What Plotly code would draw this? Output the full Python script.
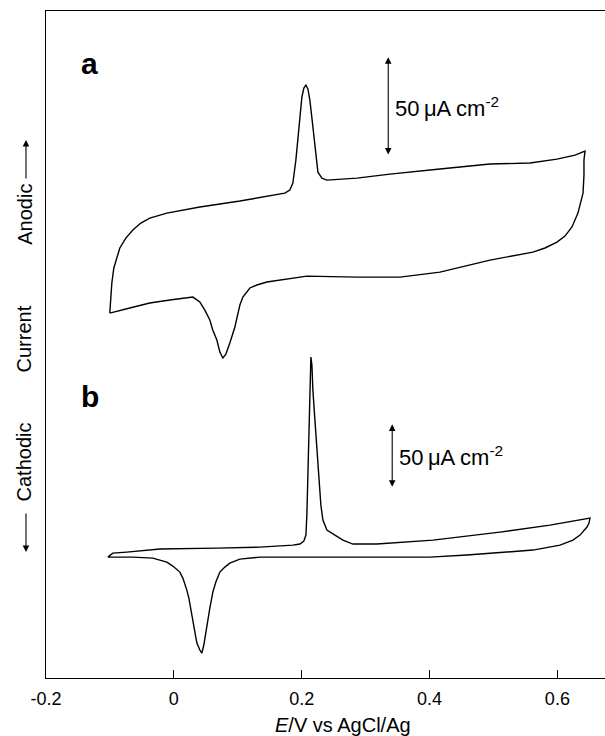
import plotly.graph_objects as go

# ---------------- data ----------------
# Curve a: potential (V vs AgCl/Ag) and current density (uA cm^-2, relative)
E_a = [-0.1002, -0.0986, -0.0970, -0.0939, -0.0892, -0.0845, -0.0751, -0.0642, -0.0516, -0.0376,
       -0.0110, 0.0407, 0.1033, 0.1502, 0.1737, 0.1815, 0.1862, 0.1909, 0.1941, 0.1972,
       0.2003, 0.2034, 0.2066, 0.2097, 0.2128, 0.2160, 0.2207, 0.2254, 0.2316, 0.2394,
       0.2864, 0.3380, 0.4163, 0.4945, 0.5571, 0.5994, 0.6275, 0.6432,
       0.6416, 0.6416, 0.6401, 0.6322, 0.6228, 0.6119, 0.5994, 0.5806, 0.5618, 0.4945,
       0.4163, 0.3537, 0.2864, 0.2081, 0.1455, 0.1299, 0.1189, 0.1080, 0.1033, 0.0986,
       0.0955, 0.0876, 0.0814, 0.0767, 0.0720, 0.0673, 0.0610, 0.0563, 0.0485, 0.0407,
       0.0297, -0.0063, -0.0376, -0.0689, -0.1002]
I_a = [-36.9, -30.3, -21.7, -14.1, -8.6, -4.0, 1.0, 5.1, 8.6, 11.1,
       13.6, 16.7, 19.7, 22.2, 23.7, 25.3, 28.8, 40.4, 50.5, 63.1,
       72.2, 76.8, 78.3, 76.3, 70.7, 61.6, 49.0, 34.3, 31.3, 30.3,
       31.3, 33.3, 35.9, 38.4, 38.9, 40.9, 42.9, 44.9,
       40.4, 32.8, 23.7, 13.6, 6.6, 2.0, -1.0, -4.0, -6.1, -10.1,
       -16.2, -18.7, -18.7, -18.2, -21.2, -22.7, -24.2, -28.8, -32.8, -39.4,
       -43.9, -52.0, -57.6, -59.6, -56.6, -50.5, -45.5, -40.4, -35.4, -31.3,
       -28.8, -30.3, -31.8, -34.3, -36.9]

# Curve b
E_b = [-0.1033, -0.0955, -0.0736, -0.0219, 0.0673, 0.1346, 0.1862, 0.1972, 0.2034, 0.2066,
       0.2081, 0.2097, 0.2113, 0.2128, 0.2144, 0.2160, 0.2175, 0.2207, 0.2238, 0.2269,
       0.2300, 0.2332, 0.2394, 0.2520, 0.2645, 0.2801, 0.3177, 0.4053, 0.5102, 0.5884,
       0.6510, 0.6495, 0.6463, 0.6354, 0.6244, 0.6041, 0.5618, 0.4585, 0.4006, 0.1972,
       0.1346, 0.1033, 0.0876, 0.0798, 0.0720, 0.0657, 0.0610, 0.0563, 0.0516, 0.0469,
       0.0438, 0.0407, 0.0360, 0.0313, 0.0282, 0.0235, 0.0203, 0.0141, 0.0094, -0.0016,
       -0.0110, -0.0329, -0.0642, -0.1033]
I_b = [-4.7, -1.6, -0.8, 1.6, 2.3, 3.1, 4.7, 5.5, 7.8, 12.5,
       28.1, 55.5, 86.7, 118.0, 151.6, 145.3, 125.8, 102.3, 78.9, 55.5,
       35.9, 24.2, 16.4, 12.5, 8.6, 5.5, 5.5, 8.6, 14.8, 20.3,
       25.8, 21.9, 18.8, 12.5, 8.6, 4.7, 0.8, -3.1, -4.7, -4.7,
       -4.7, -6.3, -9.4, -12.5, -16.4, -24.2, -32.0, -44.5, -59.4, -73.4,
       -79.7, -77.3, -71.9, -57.8, -48.4, -36.7, -30.5, -21.1, -16.4, -11.7,
       -8.6, -5.5, -4.7, -4.7]

x_tickvals = [-0.2, 0, 0.2, 0.4, 0.6]
x_ticktext = ["-0.2", "0", "0.2", "0.4", "0.6"]
scale_bar = 50  # uA cm^-2

# ---------------- arrangement (vertical stacking of the two panels) ----------------
OFFSET_A = 221.2
OFFSET_B = 64.1
SCALE_B = 0.6465          # panel b drawn at a smaller current scale
Y_MAX = 336.9
X_RANGE = [-0.2, 0.6745]

FONT = "Liberation Sans, Arial, Helvetica, sans-serif"

ya = [OFFSET_A + v for v in I_a]
yb = [OFFSET_B + SCALE_B * v for v in I_b]

fig = go.Figure()
fig.add_trace(go.Scatter(x=E_a, y=ya, mode="lines",
                         line=dict(color="black", width=1.4), hoverinfo="skip"))
fig.add_trace(go.Scatter(x=E_b, y=yb, mode="lines",
                         line=dict(color="black", width=1.4), hoverinfo="skip"))

ann = []
# scale bars
bar_a_x, bar_a_lo = 0.3354, 263.6
bar_b_x, bar_b_lo = 0.3416, 95.8
for bx, blo, k in [(bar_a_x, bar_a_lo, 1.0), (bar_b_x, bar_b_lo, SCALE_B)]:
    ann.append(dict(x=bx, y=blo + scale_bar * k, ax=bx, ay=blo, xref="x", yref="y",
                    axref="x", ayref="y", showarrow=True, arrowhead=2, arrowside="end+start",
                    arrowsize=1.2, arrowwidth=1.1, arrowcolor="black", text=""))
    ann.append(dict(x=bx, y=blo + scale_bar * k / 2, xref="x", yref="y", xanchor="left",
                    yanchor="middle", xshift=5, showarrow=False,
                    text="50\u2009\u03bcA cm<sup>-2</sup>",
                    font=dict(family=FONT, size=22, color="black")))

# panel letters
ann.append(dict(x=0.0787, y=0.9215, xref="paper", yref="paper", showarrow=False,
                xanchor="center", yanchor="middle",
                text="<b>a</b>", font=dict(family=FONT, size=30, color="black")))
ann.append(dict(x=0.0787, y=0.4225, xref="paper", yref="paper", showarrow=False,
                xanchor="center", yanchor="middle",
                text="<b>b</b>", font=dict(family=FONT, size=30, color="black")))

# left rotated labels
for txt, py in [("Anodic", 0.696), ("Current", 0.509), ("Cathodic", 0.3246)]:
    ann.append(dict(x=-0.0376, y=py, xref="paper", yref="paper", showarrow=False,
                    xanchor="center", yanchor="middle",
                    textangle=-90, text=txt, font=dict(family=FONT, size=20, color="black")))
ann.append(dict(x=-0.0358, y=0.8066, xref="paper", yref="paper", showarrow=True,
                ax=0, ay=40, arrowhead=2, arrowsize=1.2, arrowwidth=1.1, arrowcolor="black", text=""))
ann.append(dict(x=-0.0358, y=0.1889, xref="paper", yref="paper", showarrow=True,
                ax=0, ay=-40, arrowhead=2, arrowsize=1.2, arrowwidth=1.1, arrowcolor="black", text=""))

# x-axis title
ann.append(dict(x=0.531, y=-0.0705, xref="paper", yref="paper", showarrow=False,
                xanchor="center", yanchor="middle", text="<i>E</i>/V vs AgCl/Ag",
                font=dict(family=FONT, size=20, color="black")))

fig.update_layout(
    width=605, height=736,
    margin=dict(l=46, r=0, t=11, b=58),
    paper_bgcolor="white", plot_bgcolor="white",
    showlegend=False,
    annotations=ann,
    xaxis=dict(range=X_RANGE, tickvals=x_tickvals, ticktext=x_ticktext,
               ticks="inside", ticklen=8, tickwidth=1.2, tickcolor="black",
               ticklabelstandoff=4,
               showline=True, linecolor="black", linewidth=1.4, mirror=True,
               showgrid=False, zeroline=False,
               tickfont=dict(family=FONT, size=18, color="black")),
    yaxis=dict(range=[0, Y_MAX], showline=True, linecolor="black", linewidth=1.4,
               showticklabels=False, ticks="", showgrid=False, zeroline=False),
)

fig.write_html("out.html")
